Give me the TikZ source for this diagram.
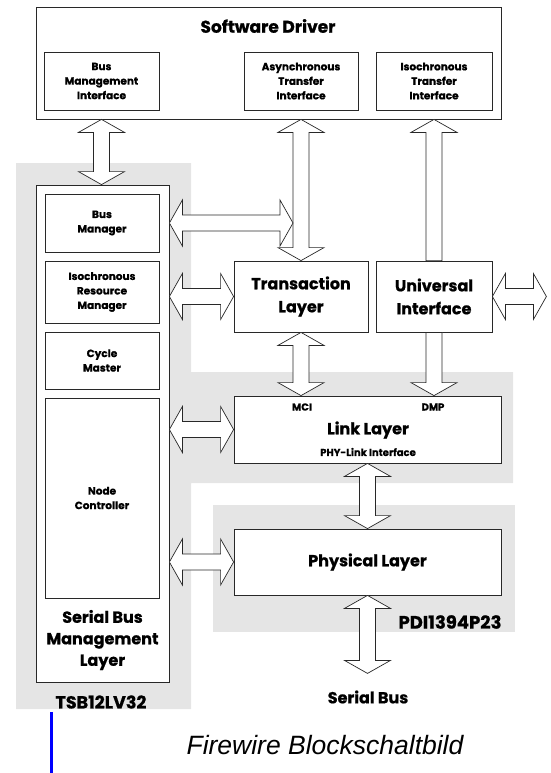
\documentclass[tikz,border=0pt]{standalone}
\usepackage{fontspec}
\setmainfont{Poppins}[BoldFeatures={FakeBold=0.8}]
\newfontfamily\capfont{Liberation Sans}
\usetikzlibrary{calc}
\definecolor{bggray}{RGB}{229,229,229}
\definecolor{linecol}{RGB}{40,40,40}
\newcommand\dblh[3]{\draw[barrow] let \p1=(#1), \p2=(#2), \p3=(#3) in
  (\x1,\y3) -- ++(13pt,23pt) -- ++(0,-15pt) -- (\x2-13pt,\y3+8pt) -- ++(0,15pt) -- (\x2,\y3)
  -- ++(-13pt,-23pt) -- ++(0,15pt) -- (\x1+13pt,\y3-8pt) -- ++(0,-15pt) -- cycle;}
\newcommand\dblv[3]{\draw[barrow] let \p1=(#1), \p2=(#2), \p3=(#3) in
  (\x3,\y1) -- ++(23pt,-13pt) -- ++(-15pt,0) -- (\x3+8pt,\y2+13pt) -- ++(15pt,0) -- (\x3,\y2)
  -- ++(-23pt,13pt) -- ++(15pt,0) -- (\x3-8pt,\y1-13pt) -- ++(-15pt,0) -- cycle;}
\newcommand\upv[3]{\draw[barrow] let \p1=(#1), \p2=(#2), \p3=(#3) in
  (\x3,\y1) -- ++(23pt,-13pt) -- ++(-15pt,0) -- (\x3+8pt,\y2) -- (\x3-8pt,\y2)
  -- (\x3-8pt,\y1-13pt) -- ++(-15pt,0) -- cycle;}
\newcommand\downv[3]{\draw[barrow] let \p1=(#1), \p2=(#2), \p3=(#3) in
  (\x3-8pt,\y1) -- (\x3+8pt,\y1) -- (\x3+8pt,\y2+13pt) -- ++(15pt,0) -- (\x3,\y2)
  -- ++(-23pt,13pt) -- ++(15pt,0) -- cycle;}
\begin{document}
\begin{tikzpicture}[x=1pt,y=-1pt,
  box/.style={draw=linecol, line width=0.8pt, fill=white, inner sep=0pt},
  big/.style={font=\fontsize{16}{23}\selectfont\bfseries, align=center, inner sep=0pt},
  small/.style={font=\fontsize{10.5}{14.5}\selectfont\bfseries, align=center, inner sep=0pt},
  tiny/.style={font=\fontsize{10}{12}\selectfont\bfseries, align=center, inner sep=0pt},
  barrow/.style={draw=linecol, line width=0.7pt, fill=white, line join=miter},
  grayzone/.style={fill=bggray, draw=none}]
\useasboundingbox (0,0) rectangle (550,773);
% gray zones
\path[grayzone] (16,163) -- (191,163) -- (191,372) -- (513,372) -- (513,483) -- (191,483) -- (191,709) -- (16,709) -- cycle;
\path[grayzone] (213,505) rectangle (515,632);
% software driver
\node[box, minimum width=465pt, minimum height=112pt] (sd) at (268.5,63) {};
\node[big, font=\fontsize{17}{23}\selectfont\bfseries] (sdt) at (268,26) {Software Driver};
\node[box, small, minimum width=115pt, minimum height=58pt] (bmi) at (101.5,81) {Bus\\Management\\Interface};
\node[box, small, minimum width=114pt, minimum height=58pt] (ati) at (301,81) {Asynchronous\\Transfer\\Interface};
\node[box, small, minimum width=116pt, minimum height=58pt] (iti) at (434,81) {Isochronous\\Transfer\\Interface};
% serial bus management layer
\node[box, minimum width=133pt, minimum height=497pt] (sbml) at (102.5,433.5) {};
\node[box, small, minimum width=114pt, minimum height=58pt] (bm) at (102,223) {Bus\\Manager};
\node[box, small, minimum width=114pt, minimum height=62pt] (irm) at (102,292) {Isochronous\\Resource\\Manager};
\node[box, small, minimum width=114pt, minimum height=57pt] (cm) at (102,360.5) {Cycle\\Master};
\node[box, small, minimum width=114pt, minimum height=200pt] (nc) at (102,498) {Node\\Controller};
\node[font=\fontsize{16}{21.5}\selectfont\bfseries, align=center, inner sep=0pt] (sbmlt) at (102.5,640) {Serial Bus\\Management\\Layer};
\node[big, font=\fontsize{17.5}{23}\selectfont\bfseries] (tsb) at (101,702) {TSB12LV32};
% transaction / universal
\node[box, big, minimum width=134pt, minimum height=71pt] (tl) at (301,296.5) {Transaction\\Layer};
\node[box, big, minimum width=116pt, minimum height=71pt] (ui) at (434,296.5) {Universal\\Interface};
% link layer
\node[box, minimum width=267pt, minimum height=67pt] (ll) at (367.5,429.5) {};
\node[tiny] (mci) at (302,407) {MCI};
\node[tiny] (dmp) at (433,407) {DMP};
\node[big] (llt) at (368,430) {Link Layer};
\node[tiny] (phyl) at (368,452) {PHY-Link Interface};
% physical layer
\node[box, big, minimum width=267pt, minimum height=66pt] (pl) at (367.5,562) {Physical Layer};
\node[big, font=\fontsize{18}{23}\selectfont\bfseries] (pdi) at (450,622) {PDI1394P23};
\node[big] (sbus) at (368,697) {Serial Bus};
% free ends
\coordinate (tap) at ([xshift=-8pt]tl.north |- bm.east);
\coordinate (uiout) at ([xshift=54pt]ui.east);
\coordinate (sbend) at ([yshift=-78pt]pl.south);
% arrows
\dblv{bmi.south |- sd.south}{bmi.south |- sbml.north}{bmi.south}
\dblv{ati.south |- sd.south}{tl.north}{tl.north}
\upv{iti.south |- sd.south}{ui.north}{ui.north}
\dblh{sbml.east}{tap}{bm.east}
\dblh{sbml.east}{tl.west}{tl.west}
\dblh{ui.east}{uiout}{ui.east}
\dblv{tl.south}{tl.south |- ll.north}{tl.south}
\downv{ui.south}{ui.south |- ll.north}{ui.south}
\dblh{sbml.east}{ll.west}{ll.west}
\dblh{sbml.east}{pl.west}{pl.west}
\dblv{ll.south}{pl.north}{ll.south}
\dblv{pl.south}{sbend}{pl.south}
% caption
\fill[blue] (49.5,712) rectangle (53,773);
\node[font=\capfont\itshape\fontsize{26.5}{30}\selectfont, inner sep=0pt] (cap) at (325,745) {Firewire Blockschaltbild};
\end{tikzpicture}
\end{document}
